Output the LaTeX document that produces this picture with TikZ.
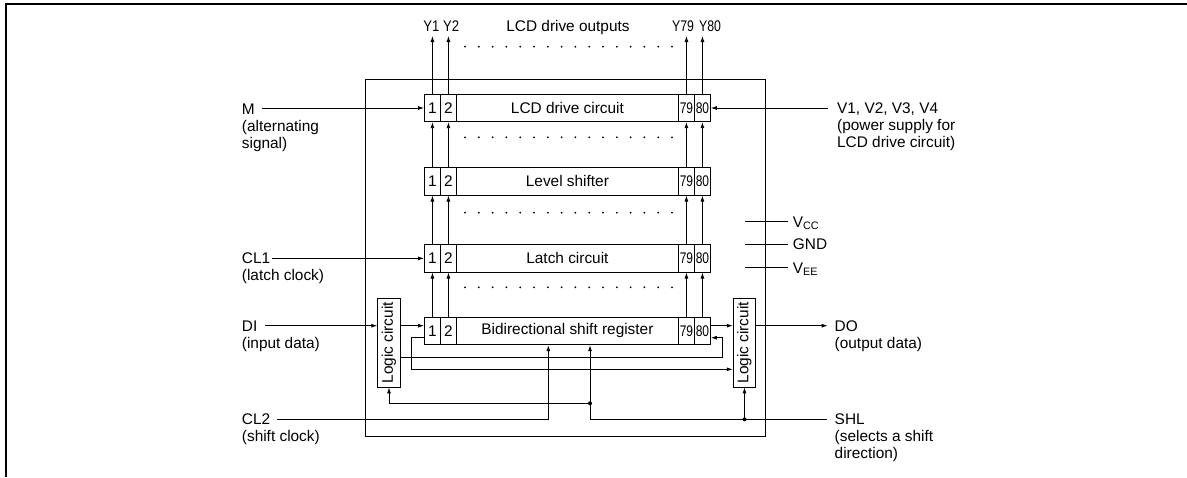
\documentclass[tikz,border=0pt]{standalone}
\usepackage{fontspec}
\setmainfont{Liberation Sans}
\usepackage{graphicx}
\usetikzlibrary{arrows.meta}
\newcommand{\lines}[1]{\begin{tabular}[t]{@{}l@{}}#1\end{tabular}}
\newcommand{\narrow}[1]{\scalebox{0.78}[1]{#1}}
\begin{document}
\begin{tikzpicture}[x=1pt,y=-1pt, line width=0.85pt,
  every node/.style={font=\fontsize{15.4}{17}\selectfont},
  cell/.style={draw, inner sep=0pt, minimum height=27.4pt, anchor=west},
  arr/.style={-{Latex[length=6pt,width=4pt]}},
  lbl/.style={inner sep=0pt, anchor=base west},
  ylbl/.style={inner sep=0pt, anchor=base},
  logic/.style={draw, inner sep=0pt, minimum width=22.6pt, minimum height=88.3pt},
  junction/.style={circle, fill, inner sep=0pt, minimum size=4pt}]
\useasboundingbox (0,0) rectangle (1187,477);
% outer frame
\draw[line width=2.2pt] (6,477) -- (6,4) -- (1187,4);
% chip outline
\node[draw, inner sep=0pt, minimum width=399.8pt, minimum height=357.4pt] (chip) at (565.6,258) {};
% rows of cells
\foreach \n/\y/\t in {lcd/108/LCD drive circuit, lvl/181.4/Level shifter, lat/258.4/Latch circuit, sr/331/Bidirectional shift register}{
  \node[cell, minimum width=16pt] (\n-1) at (424,\y) {1};
  \node[cell, minimum width=16pt] (\n-2) at (440,\y) {2};
  \node[cell, minimum width=222pt] (\n-m) at (456,\y) {\t};
  \node[cell, minimum width=16pt] (\n-79) at (678,\y) {\narrow{79}};
  \node[cell, minimum width=16pt] (\n-80) at (694,\y) {\narrow{80}};
}
% vertical arrows between rows
\foreach \a/\b in {sr/lat, lat/lvl, lvl/lcd}{
  \foreach \c in {1,2,79,80}{
    \draw[arr] (\a-\c.north) -- (\b-\c.south);
  }
}
% outputs
\coordinate (ytop) at (0,36);
\foreach \c in {1,2,79,80}{
  \draw[arr] (lcd-\c.north) -- (lcd-\c.north |- ytop);
}
\node[ylbl] (tY1) at (431.5,31.5) {\scalebox{0.85}[1]{Y1}};
\node[ylbl] (tY2) at (451.2,31.5) {\scalebox{0.85}[1]{Y2}};
\node[ylbl] (tout) at (568,31.5) {LCD drive outputs};
\node[ylbl] (tY79) at (683,31.5) {\scalebox{0.8}[1]{Y79}};
\node[ylbl] (tY80) at (710,31.5) {\scalebox{0.8}[1]{Y80}};
% dot rows
\foreach \yy in {46.7,137.3,212.7,287.3}{
  \foreach \i in {0,...,15}{
    \fill (465+\i*13.8,\yy) circle (1pt);
  }
}
% logic circuits
\node[logic] (LL) at (389,342.8) {\rotatebox{90}{Logic circuit}};
\node[logic] (RL) at (744.5,342.8) {\rotatebox{90}{Logic circuit}};
% left inputs
\node[lbl] (tM) at (241.5,114) {\lines{M\\(alternating\\signal)}};
\node[lbl] (tCL1) at (241.5,263.6) {\lines{CL1\\(latch clock)}};
\node[lbl] (tDI) at (241.5,331) {\lines{DI\\(input data)}};
\node[lbl] (tCL2) at (241.5,424.8) {\lines{CL2\\(shift clock)}};
\coordinate (Ms) at (262,108);
\coordinate (CL1s) at (272,258.4);
\coordinate (DIs) at (265,325.7);
\coordinate (CL2s) at (277,419.3);
\draw[arr] (Ms) -- (lcd-1.west);
\draw[arr] (CL1s) -- (lat-1.west);
\draw[arr] (DIs) -- (LL.west |- DIs);
% right side labels
\node[lbl] (tV) at (836.7,113.8) {\lines{V1, V2, V3, V4\\(power supply for\\LCD drive circuit)}};
\node[lbl] (tDO) at (834.3,331) {\lines{DO\\(output data)}};
\node[lbl] (tSHL) at (834.3,424.8) {\lines{SHL\\(selects a shift\\direction)}};
\coordinate (Vs) at (828,108);
\coordinate (DOe) at (827.7,325.7);
\coordinate (SHLs) at (826.7,419.3);
\draw[arr] (Vs) -- (lcd-80.east);
% supply pins
\node[lbl] (tVCC) at (792.5,227.2) {V\textsubscript{CC}};
\node[lbl] (tGND) at (792.5,249.8) {GND};
\node[lbl] (tVEE) at (792.5,273.2) {V\textsubscript{EE}};
\coordinate (vccs) at (745,221.7);
\coordinate (gnds) at (745,244.3);
\coordinate (vees) at (745,267.7);
\draw (vccs) -- (788.3,221.7);
\draw (gnds) -- (788.3,244.3);
\draw (vees) -- (788.3,267.7);
% shift register wiring
\coordinate (yA) at (0,325.7);
\coordinate (yB) at (0,337.7);
\coordinate (yC) at (0,357.7);
\coordinate (kL) at (411.7,369.3);
\coordinate (kR) at (722.7,337.7);
\draw[arr] (LL.east |- yA) -- (sr-1.west |- yA);
\draw[arr] (sr-80.east |- yA) -- (RL.west |- yA);
\draw[arr] (RL.east |- yA) -- (DOe);
\draw[arr] (sr-1.west |- yB) -| (kL) -- (RL.west |- kL);
\draw[arr] (LL.east |- yC) -| (kR) -- (sr-80.east |- kR);
% clock and direction
\coordinate (xCL2) at (548.3,0);
\coordinate (xSHL) at (590,0);
\coordinate (jL) at (590,403.3);
\draw[arr] (CL2s) -| (sr-m.south -| xCL2);
\draw[arr] (SHLs) -- (xSHL |- SHLs) -- (sr-m.south -| xSHL);
\draw[arr] (jL) -| (LL.south);
\draw[arr] (RL.south |- SHLs) -- (RL.south);
\node[junction] (j1) at (jL) {};
\node[junction] (j2) at (RL.south |- SHLs) {};
\end{tikzpicture}
\end{document}
